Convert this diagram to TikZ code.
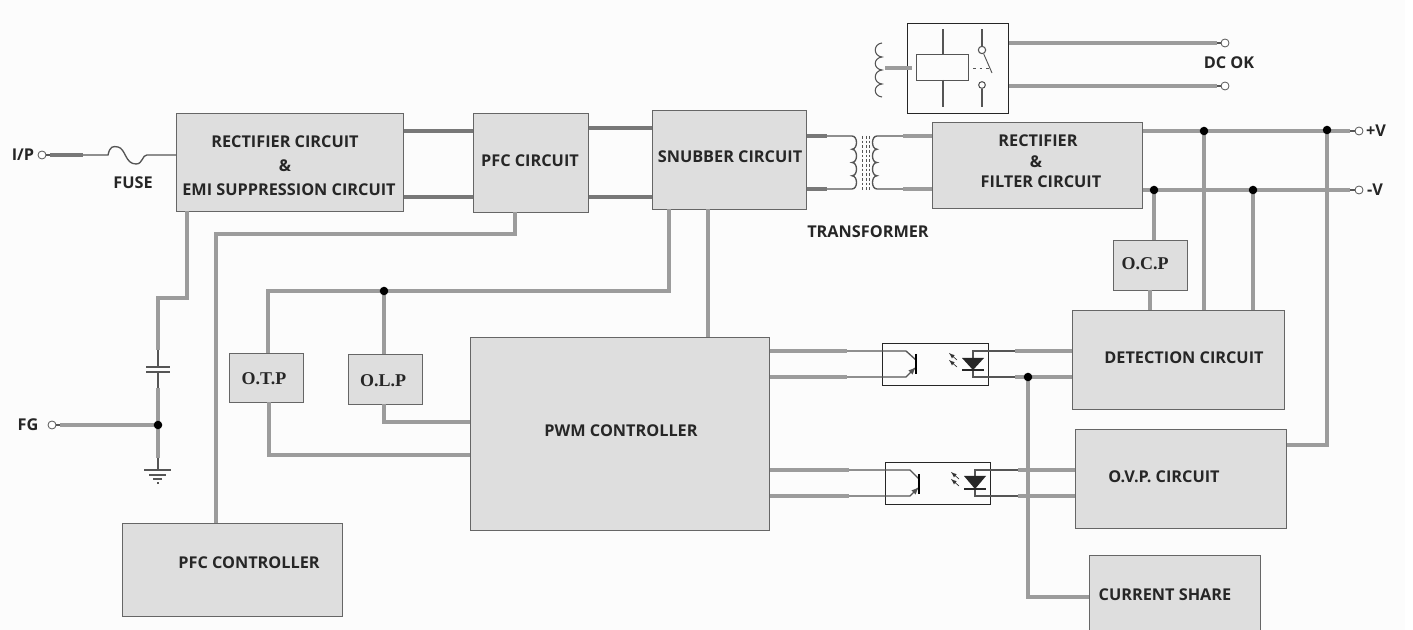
\documentclass[tikz,border=0pt]{standalone}
\usepackage{fontspec}
\setmainfont{Open Sans}
\newfontfamily\serifb{Liberation Serif}
\begin{document}
\begin{tikzpicture}[x=0.75pt,y=-0.75pt,
  wire/.style={line width=3pt,draw=wiregray},
  dwire/.style={line width=3pt,draw=wiredark},
  thin wire/.style={line width=1pt,draw=thingray},
  bx/.style={draw=boxedge,line width=1pt,fill=boxfill,inner sep=0pt,anchor=north west},
  wbx/.style={draw=black!85,line width=.8pt,fill=none,inner sep=0pt,anchor=north west},
  lbl/.style={font=\fontsize{12.2}{14}\selectfont\bfseries,text=black!85,inner sep=0pt,align=center},
  slbl/.style={font=\fontsize{13.5}{15}\selectfont\serifb\bfseries,text=black!85,inner sep=0pt},
  dot/.style={circle,fill=black,inner sep=0pt,minimum size=6.4pt},
  term/.style={circle,draw=thingray,fill=white,line width=.6pt,inner sep=0pt,minimum size=6pt},
]
\definecolor{wiregray}{HTML}{9C9C9C}
\definecolor{wiredark}{HTML}{787878}
\definecolor{thingray}{HTML}{555555}
\definecolor{boxfill}{HTML}{DEDEDE}
\definecolor{boxedge}{HTML}{666666}
\useasboundingbox (0,0) rectangle (1413,630);
\fill[white!99!black] (0,0) rectangle (1405,630);
\newcommand{\boxat}[6][bx]{\node[#1,minimum width=#5*0.75pt-#3*0.75pt,minimum height=#6*0.75pt-#4*0.75pt] (#2) at (#3,#4) {};}
% wires that enter blocks are drawn first where the block edge should stay on top
% blocks
\boxat{rect}{176}{113}{403}{211}
\boxat{pfc}{473}{113}{588}{212}
\boxat{snub}{652}{110}{806}{209}
\boxat{filt}{932}{122}{1142}{208}
\boxat{ocp}{1113}{240}{1187}{290}
\boxat{det}{1072}{310}{1284}{409}
\boxat{ovp}{1075}{429}{1286}{528}
\boxat{cs}{1089}{555}{1260}{630}
\boxat{pwm}{470}{337}{769}{530}
\boxat{pfcc}{122}{523}{342}{616}
\boxat{otp}{229}{353}{303}{402}
\boxat{olp}{348}{354}{422}{404}
\boxat[wbx]{relay}{907}{23}{1008}{113}
\boxat[wbx]{optoa}{882}{343}{988}{385}
\boxat[wbx]{optob}{885}{462}{990}{504}
% labels
\node[lbl] (t1) at (285,142) {RECTIFIER CIRCUIT};
\node[lbl] (t2) at (285,166) {\&};
\node[lbl] (t3) at (289,190) {EMI SUPPRESSION CIRCUIT};
\node[lbl] (t4) at (530,161) {PFC CIRCUIT};
\node[lbl] (t5) at (730,157) {SNUBBER CIRCUIT};
\node[lbl] (t6) at (1038,141) {RECTIFIER};
\node[lbl] (t7) at (1036,162) {\&};
\node[lbl] (t8) at (1041,182) {FILTER CIRCUIT};
\node[lbl] (t9) at (868,232) {TRANSFORMER};
\node[lbl] (t10) at (1184,358) {DETECTION CIRCUIT};
\node[lbl] (t11) at (1164,477) {O.V.P. CIRCUIT};
\node[lbl] (t12) at (1165,595) {CURRENT SHARE};
\node[lbl] (t13) at (621,431) {PWM CONTROLLER};
\node[lbl] (t14) at (249,563) {PFC CONTROLLER};
\node[lbl] (t15) at (133,183) {FUSE};
\node[lbl] (t16) at (1229,63) {DC OK};
\node[lbl] (t17) at (23,155) {I/P};
\node[lbl] (t18) at (28,425) {FG};
\node[lbl] (t19) at (1376,131) {+V};
\node[lbl] (t20) at (1375,190) {-V};
\node[slbl] (t21) at (1145,264) {O.C.P};
\node[slbl] (t22) at (264,379) {O.T.P};
\node[slbl] (t23) at (383,381) {O.L.P};
% terminals and junctions
\node[term] (ip) at (42,155) {};
\node[term] (fg) at (52,425) {};
\node[term] (ok1) at (1225,43) {};
\node[term] (ok2) at (1225,86) {};
\node[term] (pv) at (1359,131) {};
\node[term] (nv) at (1359,190) {};
\coordinate (jfg) at (158,425);
\coordinate (jol) at (384,291);
\coordinate (jo) at (1028,377);
\coordinate (jp) at (1204,131);
\coordinate (jp2) at (1327,130);
\coordinate (jn) at (1154,190);
\coordinate (jn2) at (1253,190);
% input
\draw[thin wire] (ip) -- (50,155);
\draw[dwire] (50,155) -- (83,155);
\draw[thin wire] (83,155) -- (108,155) .. controls (110,146) and (113,146) .. (118,147) .. controls (126,149) and (125,164) .. (136,164) .. controls (143,164) and (142,155) .. (147,155) -- (rect.west |- 0,155);
% rect -> pfc -> snubber
\draw[dwire] (rect.east |- 0,131) -- (pfc.west |- 0,131);
\draw[dwire] (rect.east |- 0,197) -- (pfc.west |- 0,197);
\draw[dwire] (pfc.east |- 0,128) -- (snub.west |- 0,128);
\draw[dwire] (pfc.east |- 0,197) -- (snub.west |- 0,197);
% transformer
\draw[dwire] (snub.east |- 0,136) -- (827,136);
\draw[dwire] (snub.east |- 0,189) -- (827,189);
\draw[thin wire] (827,136) -- (852,136) .. controls (858,136) and (858,149) .. (852,149.25) .. controls (858,149.5) and (858,162.5) .. (852,162.5) .. controls (858,162.5) and (858,175.75) .. (852,175.75) .. controls (858,176) and (858,189) .. (852,189) -- (827,189);
\draw[thin wire] (903,136) -- (877,136) .. controls (871,136) and (871,149) .. (877,149.25) .. controls (871,149.5) and (871,162.5) .. (877,162.5) .. controls (871,162.5) and (871,175.75) .. (877,175.75) .. controls (871,176) and (871,189) .. (877,189) -- (903,189);
\draw[wire] (903,136) -- (filt.west |- 0,136);
\draw[wire] (903,189) -- (filt.west |- 0,189);
\foreach \cx in {862,866,869} \draw[thingray,line width=.5pt,dash pattern=on 2pt off 1.5pt] (\cx,136) -- (\cx,192);
% outputs
\draw[wire] (filt.east |- 0,131) -- (1350,131);
\draw[thin wire] (1350,131) -- (pv);
\draw[wire] (filt.east |- 0,190) -- (1350,190);
\draw[thin wire] (1350,190) -- (nv);
\draw[wire] (jp) -- (jp |- det.north);
\draw[wire] (jn2) -- (jn2 |- det.north);
\draw[wire] (jn) -- (jn |- ocp.north);
\draw[wire] (1150,290) -- (1150,310);
\draw[wire] (jp2) -- (1327,445) -- (ovp.east |- 0,445);
% relay
\draw[thingray,line width=.8pt] (882,43) .. controls (873,44) and (873,56) .. (882,57) .. controls (873,58) and (873,69) .. (882,70) .. controls (873,71) and (873,83) .. (882,84) .. controls (873,85) and (873,96) .. (882,97);
\draw[wire] (885,68) -- (912,68);
\node[wbx,draw=thingray,line width=1pt,minimum width=39pt,minimum height=19.5pt] (coil) at (916,54) {};
\draw[thingray,line width=1pt] (943,54) -- (943,29);
\draw[thingray,line width=1pt] (943,80) -- (943,107);
\node[term,line width=.8pt,minimum size=5.5pt] (sw1) at (982,50) {};
\node[term,line width=.8pt,minimum size=5pt] (sw2) at (982,85) {};
\draw[thingray,line width=1pt] (sw1) -- (982,29);
\draw[thingray,line width=1pt] (sw2) -- (982,107);
\draw[thingray,line width=.7pt] (sw1) -- (992,73);
\draw[thingray,line width=.5pt,dash pattern=on 2pt off 3pt] (973,68) -- (989,68);
\draw[wire] (relay.east |- 0,43) -- (1217,43);
\draw[thin wire] (1217,43) -- (ok1);
\draw[wire] (relay.east |- 0,86) -- (1217,86);
\draw[thin wire] (1217,86) -- (ok2);
% FG + capacitor + ground
\draw[thin wire] (fg) -- (60,425);
\draw[wire] (60,425) -- (jfg);
\draw[wire] (187,211) -- (187,298) -- (158,298) -- (158,350);
\draw[thin wire] (158,350) -- (158,367);
\draw[thingray,line width=1pt] (146,367) -- (170,367);
\draw[thingray,line width=1pt] (146,372) -- (170,372);
\draw[thin wire] (158,372) -- (158,388);
\draw[wire] (158,388) -- (158,458);
\draw[thin wire] (158,458) -- (158,470);
\draw[thingray,line width=1pt] (144,470) -- (171,470);
\draw[thingray,line width=.8pt] (149,475) -- (166,475);
\draw[thingray,line width=.8pt] (153,479) -- (162,479);
\draw[thingray,line width=.8pt] (157,483) -- (159,483);
% control lines
\draw[wire] (515,212) -- (515,234) -- (216,234) -- (216,523);
\draw[wire] (669,209) -- (669,291) -- (268,291) -- (268,353);
\draw[wire] (jol) -- (jol |- olp.north);
\draw[wire] (708,209) -- (708,337);
\draw[wire] (384,404) -- (384,422) -- (pwm.west |- 0,422);
\draw[wire] (269,402) -- (269,455) -- (pwm.west |- 0,455);
% opto A
\draw[wire] (pwm.east |- 0,351) -- (847,351);
\draw[wire] (pwm.east |- 0,377) -- (847,377);
\draw[thin wire] (847,351) -- (906,351) -- (916,360);
\draw[thin wire,-latex] (847,377) -- (906,377) -- (916,367);
\draw[black,line width=1.4pt] (916,354) -- (916,374);
\draw[thin wire] (1015,351) -- (973,351) -- (973,377) -- (1015,377);
\fill[black!85] (962,358) -- (984,358) -- (973,370) -- cycle;
\draw[black!85,line width=1.6pt] (962,370) -- (984,370);
\foreach \dy in {0,7} \draw[black!80,line width=.5pt,-latex] (957,360+\dy) -- (949,353+\dy);
\draw[wire] (1015,351) -- (det.west |- 0,351);
\draw[wire] (1015,377) -- (det.west |- 0,377);
% opto B
\draw[wire] (pwm.east |- 0,470) -- (849,470);
\draw[wire] (pwm.east |- 0,496) -- (849,496);
\draw[thin wire] (849,470) -- (910,470) -- (919,479);
\draw[thin wire,-latex] (849,496) -- (910,496) -- (919,487);
\draw[black,line width=1.4pt] (919,474) -- (919,494);
\draw[thin wire] (1018,470) -- (975,470) -- (975,496) -- (1018,496);
\fill[black!85] (964,476) -- (986,476) -- (975,489) -- cycle;
\draw[black!85,line width=1.6pt] (964,489) -- (986,489);
\foreach \dy in {0,7} \draw[black!80,line width=.5pt,-latex] (959,479+\dy) -- (951,472+\dy);
\draw[wire] (1018,470) -- (ovp.west |- 0,470);
\draw[wire] (1018,496) -- (ovp.west |- 0,496);
% current share bus
\draw[wire] (jo) -- (1028,597) -- (cs.west |- 0,597);
% dots
\foreach \j in {jfg,jol,jo,jp,jp2,jn,jn2} \node[dot] at (\j) {};
\end{tikzpicture}
\end{document}
